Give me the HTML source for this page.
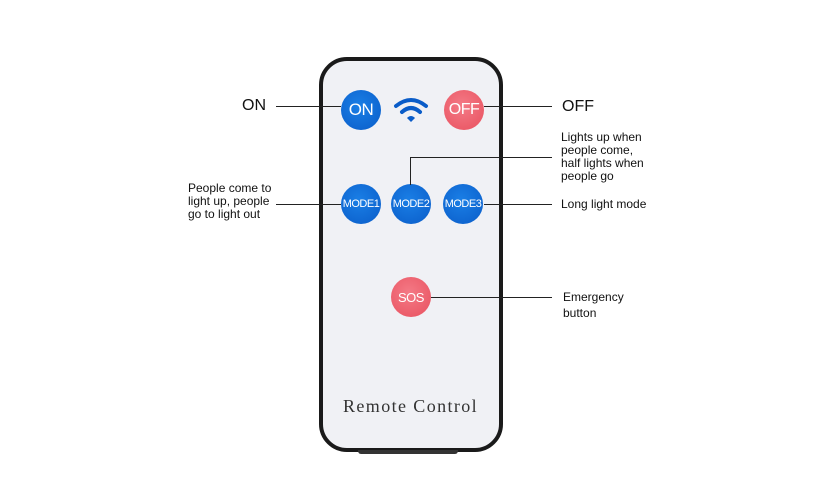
<!DOCTYPE html>
<html><head><style>
body{margin:0;width:830px;height:500px;background:#fff;position:relative;overflow:hidden;font-family:"Liberation Sans",sans-serif;}
.abs{position:absolute}
.remote{left:319px;top:57px;width:176px;height:387px;border:4px solid #1a1a1a;border-radius:28px;background:#f0f1f5;}
.btn{position:absolute;width:40px;height:40px;border-radius:50%;color:#fff;display:flex;align-items:center;justify-content:center;font-size:11px;letter-spacing:-0.5px}
.blue{background:radial-gradient(circle at 45% 40%,#1a7fe6,#0a5cc8)}
.red{background:radial-gradient(circle at 45% 40%,#f47a86,#e8505e)}
.line{position:absolute;background:#222}
.t{position:absolute;font-size:12px;line-height:13px;color:#111}
</style></head><body>
<div class="abs remote"></div>
<div class="abs" style="left:358px;top:450px;width:100px;height:4px;background:#333;border-radius:0 0 3px 3px"></div>
<div class="btn blue" style="left:341px;top:90px;font-size:17px">ON</div>
<div class="btn red" style="left:444px;top:90px;font-size:16px">OFF</div>
<div class="btn blue" style="left:341px;top:184px">MODE1</div>
<div class="btn blue" style="left:391px;top:184px">MODE2</div>
<div class="btn blue" style="left:443px;top:184px">MODE3</div>
<div class="btn red" style="left:391px;top:277px;font-size:13px">SOS</div>
<svg class="abs" style="left:393px;top:96px" width="36" height="28" viewBox="0 0 36 28">
<path d="M3 10 Q18 -2 33 10" stroke="#0a5cc8" stroke-width="4" fill="none" stroke-linecap="round"/>
<path d="M9 16 Q18 8 27 16" stroke="#0a5cc8" stroke-width="4" fill="none" stroke-linecap="round"/>
<path d="M14 22 L18 26 L22 22 Q18 18 14 22Z" fill="#0a5cc8"/>
</svg>
<div class="abs" style="left:343px;top:396px;font-family:'Liberation Serif',serif;font-size:18px;letter-spacing:1.4px;color:#333">Remote Control</div>
<div class="line" style="left:276px;top:106px;width:65px;height:1px"></div>
<div class="line" style="left:484px;top:106px;width:68px;height:1px"></div>
<div class="line" style="left:276px;top:204px;width:65px;height:1px"></div>
<div class="line" style="left:484px;top:204px;width:68px;height:1px"></div>
<div class="line" style="left:410px;top:157px;width:1px;height:28px"></div>
<div class="line" style="left:410px;top:157px;width:142px;height:1px"></div>
<div class="line" style="left:431px;top:297px;width:121px;height:1px"></div>
<div class="t" style="left:242px;top:98px;font-size:16px;line-height:16px">ON</div>
<div class="t" style="left:562px;top:99px;font-size:16px;line-height:16px">OFF</div>
<div class="t" style="left:561px;top:131px">Lights up when<br>people come,<br>half lights when<br>people go</div>
<div class="t" style="left:188px;top:182px">People come to<br>light up, people<br>go to light out</div>
<div class="t" style="left:561px;top:198px">Long light mode</div>
<div class="t" style="left:563px;top:289px;line-height:16px">Emergency<br>button</div>
</body></html>
